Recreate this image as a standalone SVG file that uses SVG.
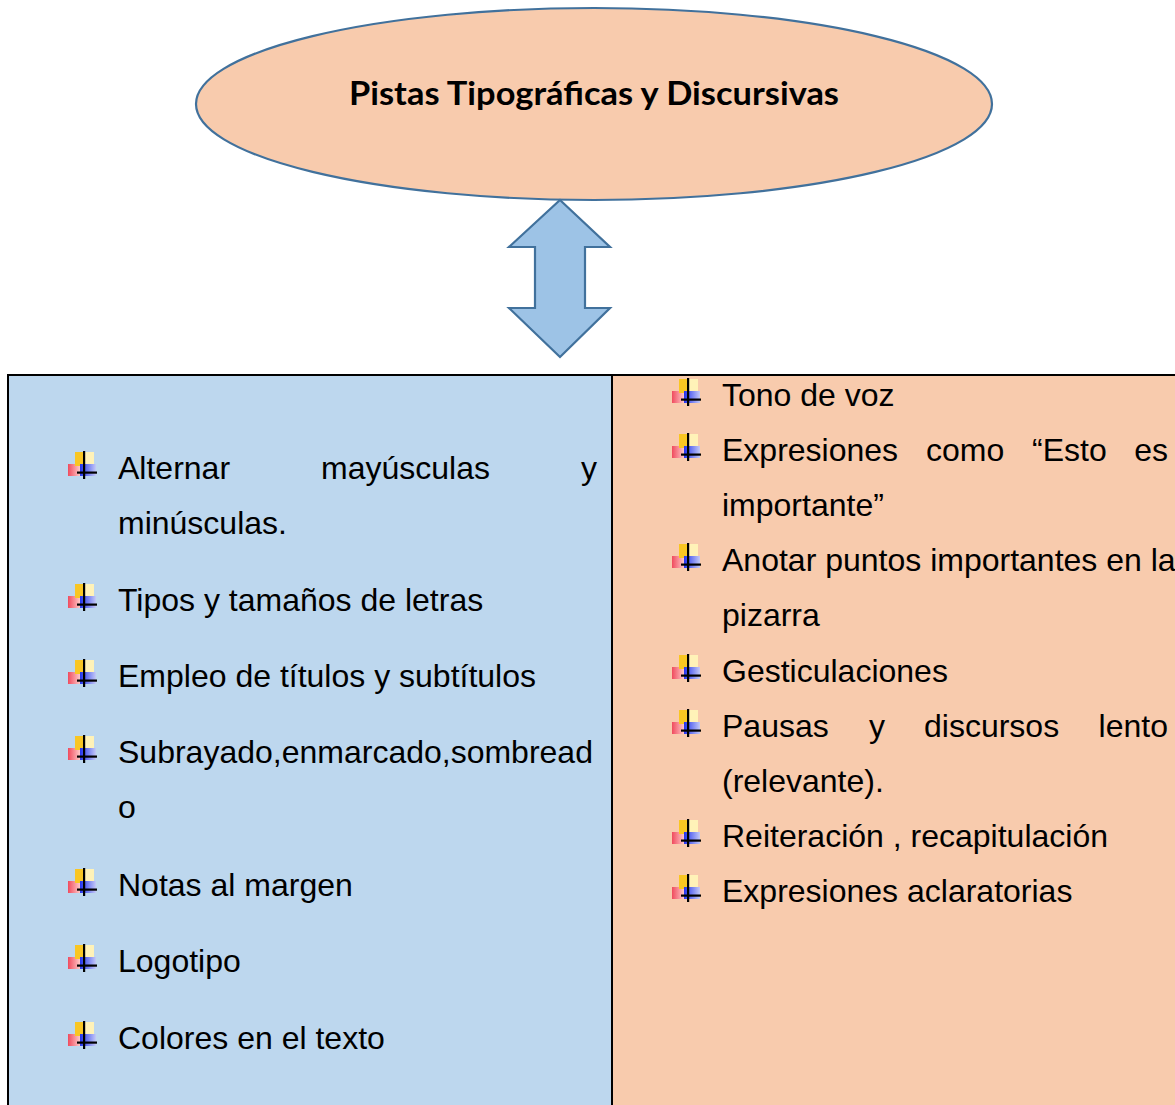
<svg xmlns="http://www.w3.org/2000/svg" width="1175" height="1105" viewBox="0 0 1175 1105">
<style>
.t{font-family:"Liberation Sans",Arial,sans-serif;font-size:32px;fill:#000}
.title{font-family:Lato,"Liberation Sans",sans-serif;font-weight:bold;font-size:32px;fill:#000}
.e{text-anchor:end}
</style>
<defs>
<linearGradient id="gr" x1="0" y1="0" x2="1" y2="0"><stop offset="0" stop-color="#F04B5E"/><stop offset="1" stop-color="#FFC8C8"/></linearGradient>
<linearGradient id="gb" x1="0" y1="0" x2="1" y2="0"><stop offset="0" stop-color="#2233EE"/><stop offset="1" stop-color="#C4C9F6"/></linearGradient>
<g id="bul">
<rect x="-16" y="-16" width="12" height="12" fill="url(#gr)"/>
<rect x="-9" y="-28" width="9" height="14" fill="#F9C623"/>
<rect x="0" y="-28" width="10" height="14" fill="#FFF2B8"/>
<rect x="-4" y="-16" width="16" height="12" fill="url(#gb)"/>
<rect x="-1" y="-29" width="2.2" height="28" fill="#000"/>
<rect x="-7" y="-8.5" width="20" height="2.2" fill="#000"/>
</g>
</defs>
<rect width="1175" height="1105" fill="#fff"/>
<g id="title-node">
<ellipse cx="594" cy="104" rx="398" ry="96" fill="#F8CBAD" stroke="#41719C" stroke-width="2.2"/>
<text class="title" x="594" y="105" text-anchor="middle" textLength="490" lengthAdjust="spacingAndGlyphs">Pistas Tipográficas y Discursivas</text>
</g>
<g id="connectors">
<polygon points="560,200 610,247 585,247 585,308 610,308 560,357 509,308 535,308 535,247 509,247" fill="#9DC3E6" stroke="#41719C" stroke-width="2.2" stroke-linejoin="miter"/>
</g>
<g id="table-frame">
<rect x="8" y="375" width="605" height="730" fill="#BDD7EE"/>
<rect x="613" y="375" width="562" height="730" fill="#F8CBAD"/>
<rect x="7" y="374" width="1168" height="2" fill="#000"/>
<rect x="7" y="374" width="2" height="731" fill="#000"/>
<rect x="611" y="374" width="2" height="731" fill="#000"/>
</g>
<g id="typographic-cues">
<use href="#bul" x="84" y="480"/>
<text class="t" x="118" y="479">Alternar</text>
<text class="t" x="321" y="479">mayúsculas</text>
<text class="t e" x="597" y="479">y</text>
<text class="t" x="118" y="534">minúsculas.</text>
<use href="#bul" x="84" y="612"/>
<text class="t" x="118" y="611">Tipos y tamaños de letras</text>
<use href="#bul" x="84" y="688"/>
<text class="t" x="118" y="687">Empleo de títulos y subtítulos</text>
<use href="#bul" x="84" y="764"/>
<text class="t" x="118" y="763">Subrayado,enmarcado,sombread</text>
<text class="t" x="118" y="818">o</text>
<use href="#bul" x="84" y="897"/>
<text class="t" x="118" y="896">Notas al margen</text>
<use href="#bul" x="84" y="973"/>
<text class="t" x="118" y="972">Logotipo</text>
<use href="#bul" x="84" y="1050"/>
<text class="t" x="118" y="1049">Colores en el texto</text>
</g>
<g id="discursive-cues">
<use href="#bul" x="688" y="407"/>
<text class="t" x="722" y="406">Tono de voz</text>
<use href="#bul" x="688" y="462"/>
<text class="t" x="722" y="461">Expresiones</text>
<text class="t" x="926" y="461">como</text>
<text class="t" x="1032" y="461">“Esto</text>
<text class="t e" x="1168" y="461">es</text>
<text class="t" x="722" y="516">importante”</text>
<use href="#bul" x="688" y="572"/>
<text class="t" x="722" y="571">Anotar puntos importantes en la</text>
<text class="t" x="722" y="626">pizarra</text>
<use href="#bul" x="688" y="683"/>
<text class="t" x="722" y="682">Gesticulaciones</text>
<use href="#bul" x="688" y="738"/>
<text class="t" x="722" y="737">Pausas</text>
<text class="t" x="869" y="737">y</text>
<text class="t" x="924" y="737">discursos</text>
<text class="t e" x="1168" y="737">lento</text>
<text class="t" x="722" y="792">(relevante).</text>
<use href="#bul" x="688" y="848"/>
<text class="t" x="722" y="847">Reiteración , recapitulación</text>
<use href="#bul" x="688" y="903"/>
<text class="t" x="722" y="902">Expresiones aclaratorias</text>
</g>
</svg>
